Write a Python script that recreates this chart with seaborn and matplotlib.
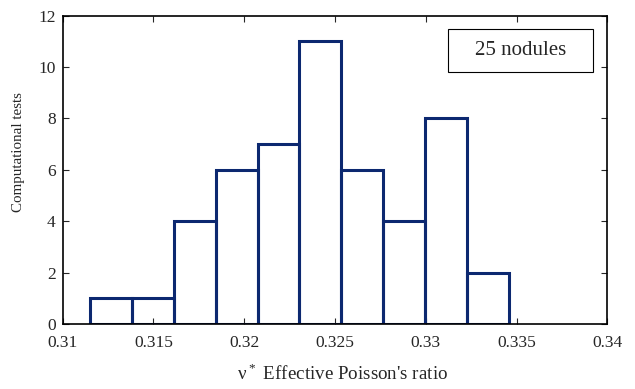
import matplotlib
matplotlib.use("Agg")
import matplotlib.pyplot as plt
import numpy as np
import pandas as pd
import seaborn as sns

# histogram
bin_lo = 0.3115
bin_hi = 0.33458
counts = [1, 1, 4, 6, 7, 11, 6, 4, 8, 2]
xticks = [0.31, 0.315, 0.32, 0.325, 0.33, 0.335, 0.34]
xtick_labels = ["0.31", "0.315", "0.32", "0.325", "0.33", "0.335", "0.34"]
yticks = [0, 2, 4, 6, 8, 10, 12]

edges = np.linspace(bin_lo, bin_hi, len(counts) + 1)
centers = (edges[:-1] + edges[1:]) / 2
df = pd.DataFrame({"nu": centers, "n": counts})

sns.set_style("ticks")
plt.rcParams['font.family'] = ['Liberation Serif', 'DejaVu Serif']
plt.rcParams['mathtext.fontset'] = 'custom'
plt.rcParams['mathtext.rm'] = 'Liberation Serif'

fig = plt.figure(figsize=(6.35, 3.89), dpi=100)
ax = fig.add_axes([0.0987, 0.167, 0.8577, 0.7929])

sns.histplot(data=df, x="nu", weights="n", bins=list(edges), fill=False,
             color="#0c2870", linewidth=2.2, ax=ax)

ax.set_xlim(0.31, 0.34)
ax.set_ylim(0, 12)
ax.set_xticks(xticks)
ax.set_xticklabels(xtick_labels)
ax.set_yticks(yticks)
ax.tick_params(direction="in", top=True, right=True, labelsize=12.5,
               length=4, width=0.8)
ax.tick_params(axis="x", pad=8)
ax.tick_params(axis="y", pad=5)
for s in ax.spines.values():
    s.set_visible(True)
    s.set_linewidth(1.2)
    s.set_color("black")

ax.set_xlabel("ν$^*$ Effective Poisson's ratio", fontsize=13.7)
ax.xaxis.set_label_coords(0.514, -0.128)
ax.set_ylabel("Computational tests", fontsize=10.8)
ax.yaxis.set_label_coords(-0.069, 0.556)

ax.add_patch(plt.Rectangle((0.7075, 0.8174), 0.2663, 0.1395,
                           transform=ax.transAxes, fc="white", ec="black",
                           lw=0.8, zorder=5))
ax.text(0.8406, 0.887, "25 nodules", transform=ax.transAxes, fontsize=15,
        ha="center", va="center", zorder=6)

fig.savefig("out.png", dpi=100)
